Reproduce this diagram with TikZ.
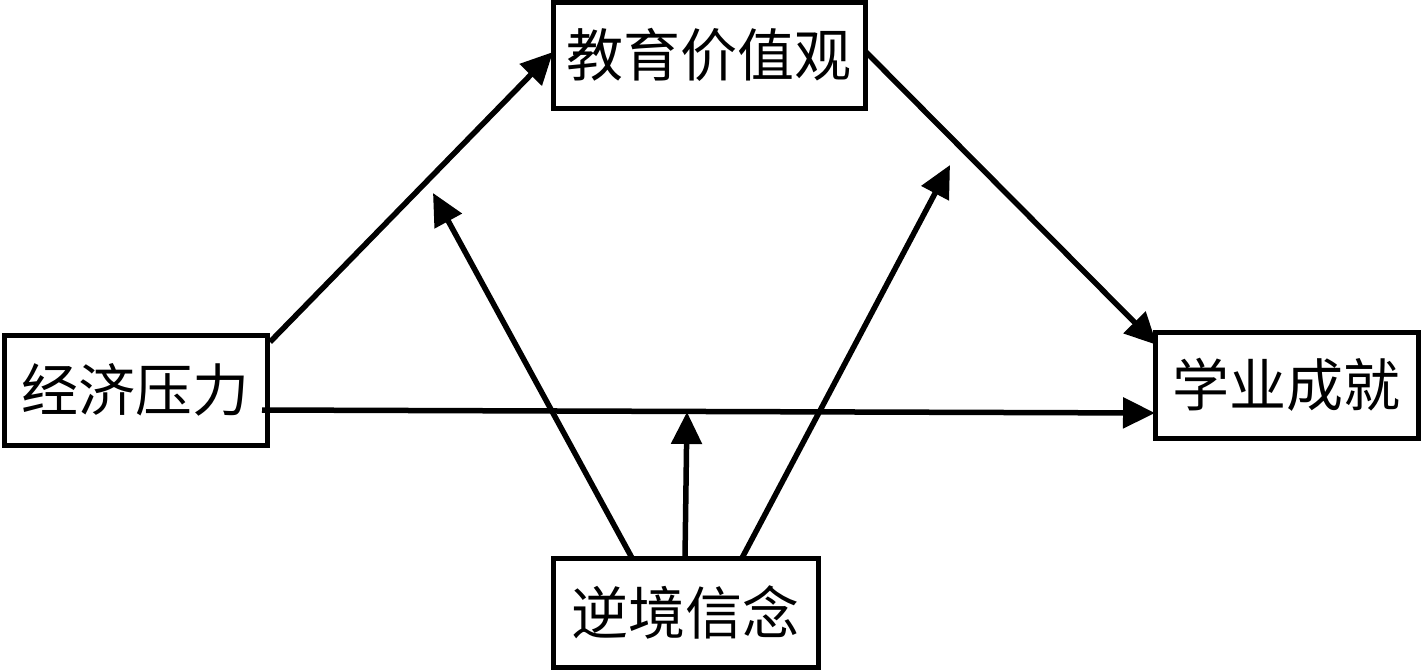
\documentclass[tikz,border=0pt]{standalone}
\usepackage{fontspec}
\newfontfamily\cjk{Noto Sans CJK SC}
\usetikzlibrary{arrows.meta}
\begin{document}
\begin{tikzpicture}[x=1pt,y=-1pt,
  varbox/.style={draw,line width=5pt,inner sep=0pt,font=\cjk\fontsize{57}{62}\selectfont},
  conn/.style={line width=5.5pt,-{Triangle[length=32pt,width=30pt]}}]
\useasboundingbox (0,0) rectangle (1421,670);
\fill[white] (0,0) rectangle (1421,670);
\node[varbox,minimum width=263pt,minimum height=110pt] (jj) at (135.5,390) {经济压力};
\node[varbox,minimum width=312pt,minimum height=106pt] (jy) at (709,55) {教育价值观};
\node[varbox,minimum width=263pt,minimum height=106pt] (xy) at (1286.5,385) {学业成就};
\node[varbox,minimum width=265pt,minimum height=109pt] (nj) at (685.5,612.5) {逆境信念};
\coordinate (a1s) at (270,342);
\coordinate (a1e) at (553,52);
\coordinate (a2s) at (866,52);
\coordinate (a2e) at (1157,345);
\coordinate (hs) at (262,410);
\coordinate (he) at (1155,413);
\coordinate (vs) at (685,558);
\coordinate (ve) at (687,412);
\coordinate (ls) at (632,558);
\coordinate (le) at (433,193);
\coordinate (rs) at (742,558);
\coordinate (re) at (950,165);
\draw[conn] (a1s) -- (a1e);
\draw[conn] (a2s) -- (a2e);
\draw[conn] (hs) -- (he);
\draw[conn] (vs) -- (ve);
\draw[conn] (ls) -- (le);
\draw[conn] (rs) -- (re);
\end{tikzpicture}
\end{document}
